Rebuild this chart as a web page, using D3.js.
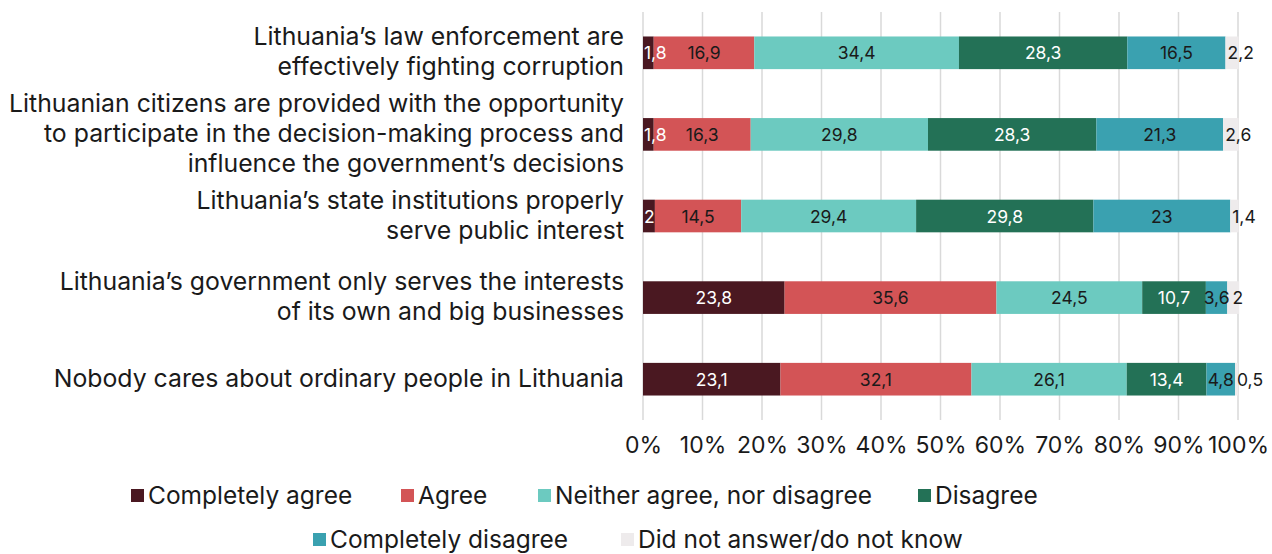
<!DOCTYPE html>
<html>
<head>
<meta charset="utf-8">
<script src="https://cdn.jsdelivr.net/npm/d3@7"></script>
<style>
  html, body { margin: 0; padding: 0; background: #ffffff; }
  svg { display: block; font-family: Inter, "Noto Sans", sans-serif; }
</style>
</head>
<body>
<svg id="chart" width="1272" height="554"></svg>
<script>
// Survey statements (each entry is a list of wrapped lines)
const statements = [
  ["Lithuania\u2019s law enforcement are", "effectively fighting corruption"],
  ["Lithuanian citizens are provided with the opportunity", "to participate in the decision-making process and", "influence the government\u2019s decisions"],
  ["Lithuania\u2019s state institutions properly", "serve public interest"],
  ["Lithuania\u2019s government only serves the interests", "of its own and big businesses"],
  ["Nobody cares about ordinary people in Lithuania"]
];

const answers = [
  "Completely agree",
  "Agree",
  "Neither agree, nor disagree",
  "Disagree",
  "Completely disagree",
  "Did not answer/do not know"
];

// Shares (%) per answer, one value per statement
const completelyAgree    = [1.8, 1.8, 2, 23.8, 23.1];
const agree              = [16.9, 16.3, 14.5, 35.6, 32.1];
const neither            = [34.4, 29.8, 29.4, 24.5, 26.1];
const disagree           = [28.3, 28.3, 29.8, 10.7, 13.4];
const completelyDisagree = [16.5, 21.3, 23, 3.6, 4.8];
const noAnswer           = [2.2, 2.6, 1.4, 2, 0.5];

const xTicks = [0, 10, 20, 30, 40, 50, 60, 70, 80, 90, 100];

const colors = ["#4a1821", "#d35456", "#6ccac0", "#237156", "#3aa1b0", "#eeebec"];
const labelColors = ["#ffffff", "#1a1a1a", "#1a1a1a", "#ffffff", "#1a1a1a", "#1a1a1a"];

const seriesValues = [completelyAgree, agree, neither, disagree, completelyDisagree, noAnswer];

const rows = statements.map((s, i) => {
  const r = { idx: i };
  answers.forEach((a, k) => { r[a] = seriesValues[k][i]; });
  return r;
});

const stacked = d3.stack().keys(answers)(rows);

const svg = d3.select("#chart");
const margin = { left: 643, right: 34, top: 12, bottom: 134 };
const W = 1272, H = 554;

const x = d3.scaleLinear().domain([0, 100]).range([margin.left, W - margin.right]);
const y = d3.scaleBand().domain(d3.range(statements.length))
  .range([margin.top, H - margin.bottom]).paddingInner(0.6).paddingOuter(0.3);

// vertical gridlines
svg.append("g")
  .selectAll("line")
  .data(xTicks)
  .join("line")
  .attr("x1", d => x(d)).attr("x2", d => x(d))
  .attr("y1", margin.top).attr("y2", H - margin.bottom)
  .attr("stroke", "#d9d9d9").attr("stroke-width", 1.5);

// x axis tick labels
const xAxis = d3.axisBottom(x).tickValues(xTicks).tickFormat(d => d + "%").tickSize(0).tickPadding(17);
const gx = svg.append("g").attr("transform", `translate(0,${H - margin.bottom})`).call(xAxis);
gx.select(".domain").remove();
gx.selectAll("text").attr("font-size", 23).attr("fill", "#1a1a1a").attr("font-family", "Inter, sans-serif");

// stacked bars
const layers = svg.append("g").selectAll("g")
  .data(stacked)
  .join("g")
  .attr("fill", (d, i) => colors[i]);

layers.selectAll("rect")
  .data(d => d)
  .join("rect")
  .attr("x", d => x(d[0]))
  .attr("width", d => x(d[1]) - x(d[0]))
  .attr("y", (d, i) => y(i))
  .attr("height", y.bandwidth());

// value labels: centred in their segment, kept inside the plot on the left,
// the last answer starts at its segment, and labels never collide
const labelG = svg.append("g");
rows.forEach((row, i) => {
  let prevRight = -Infinity;
  stacked.forEach((layer, k) => {
    const seg = layer[i];
    const val = row[layer.key];
    const t = labelG.append("text")
      .attr("y", y(i) + y.bandwidth() / 2)
      .attr("dominant-baseline", "central")
      .attr("font-size", 17.5)
      .attr("fill", labelColors[k])
      .text(String(val).replace(".", ","));
    const w = t.node().getComputedTextLength();
    let left;
    if (k === stacked.length - 1) {
      left = x(seg[0]) + 2;
    } else {
      left = (x(seg[0]) + x(seg[1])) / 2 - w / 2;
    }
    left = Math.max(left, x(0) + 1, prevRight + 3);
    t.attr("x", left);
    prevRight = left + w;
  });
});

// category labels, right aligned, multi-line
const lineH = 30;
const cat = svg.append("g");
statements.forEach((lines, i) => {
  const cy = y(i) + y.bandwidth() / 2;
  const t = cat.append("text")
    .attr("text-anchor", "end")
    .attr("font-size", 24.8)
    .attr("fill", "#1a1a1a");
  lines.forEach((ln, j) => {
    t.append("tspan")
      .attr("x", 624)
      .attr("y", cy - 1.5 + (j - (lines.length - 1) / 2) * lineH)
      .attr("dominant-baseline", "central")
      .text(ln);
  });
});

// legend
const legendPos = [
  [131, 495], [401, 495], [538, 495], [918, 495],
  [313, 539], [621, 539]
];
const legend = svg.append("g");
answers.forEach((a, i) => {
  const [lx, ly] = legendPos[i];
  legend.append("rect")
    .attr("x", lx).attr("y", ly - 6)
    .attr("width", 13).attr("height", 13)
    .attr("fill", colors[i]);
  legend.append("text")
    .attr("x", lx + 17).attr("y", ly)
    .attr("dominant-baseline", "central")
    .attr("font-size", 24.5)
    .attr("fill", "#1a1a1a")
    .text(a);
});
</script>
</body>
</html>
